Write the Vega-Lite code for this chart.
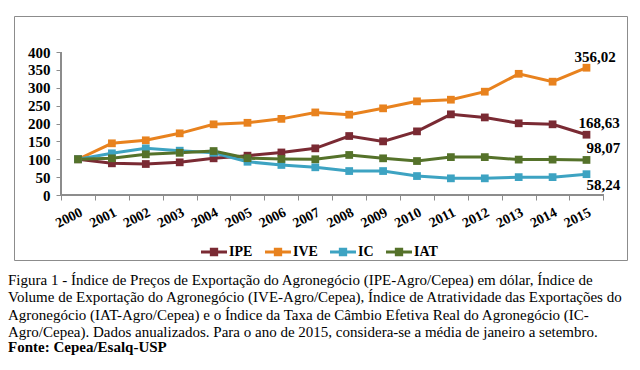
{
  "$schema": "https://vega.github.io/schema/vega-lite/v6.json",
  "width": 613,
  "height": 244,
  "autosize": {"type": "none"},
  "padding": {"left": 14, "top": 16, "right": 13, "bottom": 110},
  "background": "white",
  "config": {
    "view": {"stroke": "#8c8c8c", "strokeWidth": 1},
    "font": "Liberation Serif"
  },
  "title": {
    "text": [
      "Figura 1 - Índice de Preços de Exportação do Agronegócio (IPE-Agro/Cepea) em dólar, Índice de",
      "Volume de Exportação do Agronegócio (IVE-Agro/Cepea), Índice de Atratividade das Exportações do",
      "Agronegócio (IAT-Agro/Cepea) e o Índice da Taxa de Câmbio Efetiva Real do Agronegócio (IC-",
      "Agro/Cepea).  Dados anualizados. Para o ano de 2015, considera-se a média de janeiro a setembro."
    ],
    "subtitle": "Fonte: Cepea/Esalq-USP",
    "orient": "bottom",
    "anchor": "start",
    "frame": "group",
    "offset": 13,
    "dx": -6,
    "font": "Liberation Serif",
    "fontSize": 15,
    "fontWeight": "normal",
    "color": "black",
    "lineHeight": 17.3,
    "subtitleFont": "Liberation Serif",
    "subtitleFontSize": 15,
    "subtitleFontWeight": "bold",
    "subtitleColor": "black",
    "subtitlePadding": 0
  },
  "data": {
    "values": [
      {"year": 2000, "series": "IPE", "value": 100},
      {"year": 2001, "series": "IPE", "value": 88.6},
      {"year": 2002, "series": "IPE", "value": 86.7},
      {"year": 2003, "series": "IPE", "value": 91.4},
      {"year": 2004, "series": "IPE", "value": 102.6},
      {"year": 2005, "series": "IPE", "value": 110},
      {"year": 2006, "series": "IPE", "value": 119},
      {"year": 2007, "series": "IPE", "value": 130.5},
      {"year": 2008, "series": "IPE", "value": 165},
      {"year": 2009, "series": "IPE", "value": 150},
      {"year": 2010, "series": "IPE", "value": 178},
      {"year": 2011, "series": "IPE", "value": 225.6},
      {"year": 2012, "series": "IPE", "value": 217},
      {"year": 2013, "series": "IPE", "value": 200.5},
      {"year": 2014, "series": "IPE", "value": 197.7},
      {"year": 2015, "series": "IPE", "value": 168.63, "label": "168,63"},
      {"year": 2000, "series": "IVE", "value": 100},
      {"year": 2001, "series": "IVE", "value": 144.6},
      {"year": 2002, "series": "IVE", "value": 153},
      {"year": 2003, "series": "IVE", "value": 172.5},
      {"year": 2004, "series": "IVE", "value": 197.7},
      {"year": 2005, "series": "IVE", "value": 202},
      {"year": 2006, "series": "IVE", "value": 213},
      {"year": 2007, "series": "IVE", "value": 231},
      {"year": 2008, "series": "IVE", "value": 224.7},
      {"year": 2009, "series": "IVE", "value": 242.4},
      {"year": 2010, "series": "IVE", "value": 262},
      {"year": 2011, "series": "IVE", "value": 266.6},
      {"year": 2012, "series": "IVE", "value": 289},
      {"year": 2013, "series": "IVE", "value": 339},
      {"year": 2014, "series": "IVE", "value": 317},
      {"year": 2015, "series": "IVE", "value": 356.02, "label": "356,02"},
      {"year": 2000, "series": "IC", "value": 100},
      {"year": 2001, "series": "IC", "value": 116.6},
      {"year": 2002, "series": "IC", "value": 130.5},
      {"year": 2003, "series": "IC", "value": 124},
      {"year": 2004, "series": "IC", "value": 118},
      {"year": 2005, "series": "IC", "value": 93},
      {"year": 2006, "series": "IC", "value": 84},
      {"year": 2007, "series": "IC", "value": 77.5},
      {"year": 2008, "series": "IC", "value": 67},
      {"year": 2009, "series": "IC", "value": 67},
      {"year": 2010, "series": "IC", "value": 53},
      {"year": 2011, "series": "IC", "value": 46.6},
      {"year": 2012, "series": "IC", "value": 46.6},
      {"year": 2013, "series": "IC", "value": 50},
      {"year": 2014, "series": "IC", "value": 50},
      {"year": 2015, "series": "IC", "value": 58.24, "label": "58,24"},
      {"year": 2000, "series": "IAT", "value": 100},
      {"year": 2001, "series": "IAT", "value": 102.6},
      {"year": 2002, "series": "IAT", "value": 113.8},
      {"year": 2003, "series": "IAT", "value": 118},
      {"year": 2004, "series": "IAT", "value": 123},
      {"year": 2005, "series": "IAT", "value": 103},
      {"year": 2006, "series": "IAT", "value": 100.7},
      {"year": 2007, "series": "IAT", "value": 100},
      {"year": 2008, "series": "IAT", "value": 112},
      {"year": 2009, "series": "IAT", "value": 102.6},
      {"year": 2010, "series": "IAT", "value": 95},
      {"year": 2011, "series": "IAT", "value": 106},
      {"year": 2012, "series": "IAT", "value": 106},
      {"year": 2013, "series": "IAT", "value": 99},
      {"year": 2014, "series": "IAT", "value": 99},
      {"year": 2015, "series": "IAT", "value": 98.07, "label": "98,07"}
    ]
  },
  "layer": [
    {
      "mark": {"type": "line", "strokeWidth": 3},
      "encoding": {
        "x": {
          "field": "year", "type": "quantitative",
          "scale": {"domain": [1998.112, 2016.195], "nice": false, "zero": false},
          "axis": {
            "title": null, "grid": false, "domain": false,
            "values": [2000, 2001, 2002, 2003, 2004, 2005, 2006, 2007, 2008, 2009, 2010, 2011, 2012, 2013, 2014, 2015, 2016],
            "tickCount": 40,
            "labelExpr": "datum.value > 2015 ? '' : datum.label",
            "format": "d",
            "offset": -65,
            "tickOffset": -17,
            "labelOffset": 17,
            "tickSize": 5,
            "tickColor": "#8c8c8c",
            "labelAngle": -27,
            "labelFont": "Liberation Serif",
            "labelFontWeight": "bold",
            "labelFontSize": 14,
            "labelColor": "black",
            "labelPadding": 5,
            "labelOverlap": false,
            "labelFlush": false
          }
        },
        "y": {
          "field": "value", "type": "quantitative",
          "scale": {"domain": [-181.8, 500.7], "nice": false, "zero": false},
          "axis": {
            "title": null, "grid": false, "domain": false,
            "values": [0, 50, 100, 150, 200, 250, 300, 350, 400],
            "tickCount": 40,
            "offset": -47,
            "tickSize": 5,
            "tickColor": "#8c8c8c",
            "labelFont": "Liberation Serif",
            "labelFontWeight": "bold",
            "labelFontSize": 15,
            "labelColor": "black",
            "labelPadding": 6,
            "labelOverlap": false
          }
        },
        "color": {
          "field": "series", "type": "nominal",
          "scale": {"domain": ["IPE", "IVE", "IC", "IAT"], "range": ["#7a2a33", "#e8821e", "#3da3c2", "#55722a"]},
          "legend": {
            "title": null,
            "orient": "none",
            "legendX": 187,
            "legendY": 223,
            "direction": "horizontal",
            "symbolType": "M-1,-0.12H1V0.12H-1Z M-0.32,-0.32H0.32V0.32H-0.32Z",
            "symbolSize": 676,
            "symbolStrokeWidth": 0,
            "labelFont": "Liberation Serif",
            "labelFontWeight": "bold",
            "labelFontSize": 14,
            "labelColor": "black",
            "labelOffset": 2,
            "columnPadding": 12
          }
        }
      }
    },
    {
      "mark": {"type": "point", "shape": "square", "filled": true, "size": 60, "opacity": 1},
      "encoding": {
        "x": {"field": "year", "type": "quantitative"},
        "y": {"field": "value", "type": "quantitative"},
        "color": {
          "field": "series", "type": "nominal",
          "scale": {"domain": ["IPE", "IVE", "IC", "IAT"], "range": ["#7a2a33", "#e8821e", "#3da3c2", "#55722a"]},
          "legend": {
            "title": null,
            "orient": "none",
            "legendX": 187,
            "legendY": 223,
            "direction": "horizontal",
            "symbolType": "M-1,-0.12H1V0.12H-1Z M-0.32,-0.32H0.32V0.32H-0.32Z",
            "symbolSize": 676,
            "symbolStrokeWidth": 0,
            "labelFont": "Liberation Serif",
            "labelFontWeight": "bold",
            "labelFontSize": 14,
            "labelColor": "black",
            "labelOffset": 2,
            "columnPadding": 12
          }
        }
      }
    },
    {
      "mark": {"type": "rule", "color": "#8c8c8c", "strokeWidth": 1},
      "encoding": {
        "x": {"datum": 1999.5, "type": "quantitative"},
        "y": {"datum": 0, "type": "quantitative"},
        "y2": {"datum": 400}
      }
    },
    {
      "mark": {"type": "rule", "color": "#8c8c8c", "strokeWidth": 1},
      "encoding": {
        "x": {"datum": 1999.5, "type": "quantitative"},
        "x2": {"datum": 2015.5},
        "y": {"datum": 0, "type": "quantitative"}
      }
    },
    {
      "transform": [{"filter": "datum.series === 'IVE' && datum.year === 2015"}],
      "mark": {"type": "text", "align": "left", "dx": -12, "dy": -11, "font": "Liberation Serif", "fontWeight": "bold", "fontSize": 15, "color": "black"},
      "encoding": {
        "x": {"field": "year", "type": "quantitative"},
        "y": {"field": "value", "type": "quantitative"},
        "text": {"field": "label"}
      }
    },
    {
      "transform": [{"filter": "datum.series === 'IPE' && datum.year === 2015"}],
      "mark": {"type": "text", "align": "left", "dx": -8, "dy": -12, "font": "Liberation Serif", "fontWeight": "bold", "fontSize": 15, "color": "black"},
      "encoding": {
        "x": {"field": "year", "type": "quantitative"},
        "y": {"field": "value", "type": "quantitative"},
        "text": {"field": "label"}
      }
    },
    {
      "transform": [{"filter": "datum.series === 'IAT' && datum.year === 2015"}],
      "mark": {"type": "text", "align": "left", "dx": 0, "dy": -12, "font": "Liberation Serif", "fontWeight": "bold", "fontSize": 15, "color": "black"},
      "encoding": {
        "x": {"field": "year", "type": "quantitative"},
        "y": {"field": "value", "type": "quantitative"},
        "text": {"field": "label"}
      }
    },
    {
      "transform": [{"filter": "datum.series === 'IC' && datum.year === 2015"}],
      "mark": {"type": "text", "align": "left", "dx": 0, "dy": 11, "font": "Liberation Serif", "fontWeight": "bold", "fontSize": 15, "color": "black"},
      "encoding": {
        "x": {"field": "year", "type": "quantitative"},
        "y": {"field": "value", "type": "quantitative"},
        "text": {"field": "label"}
      }
    }
  ]
}
